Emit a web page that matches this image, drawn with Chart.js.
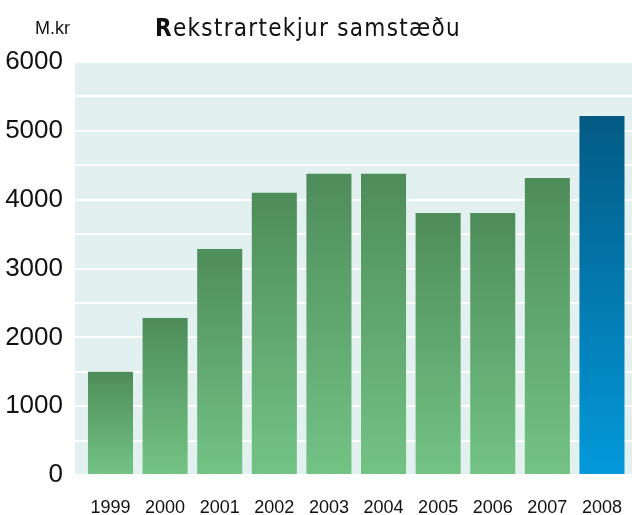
<!DOCTYPE html>
<html>
<head>
<meta charset="utf-8">
<script src="https://cdn.jsdelivr.net/npm/chart.js@4.4.1/dist/chart.umd.min.js"></script>
<style>
  html, body { margin: 0; padding: 0; background: #fff; }
  #wrap { position: relative; width: 632px; height: 515px; }
  #chart { position: absolute; left: 0; top: 0; }
  .unit { position: absolute; left: 35px; top: 18px; font: 18px "Liberation Sans", Arial, sans-serif; color: #111; }
  .title { position: absolute; left: 155px; top: 14px; font: 24px "DejaVu Sans Condensed", "DejaVu Sans", sans-serif; letter-spacing: 1.3px; color: #111; white-space: nowrap; }
  .title b { font-weight: bold; }
</style>
</head>
<body>
<div id="wrap">
  <canvas id="chart" width="632" height="515"></canvas>
  <div class="unit">M.kr</div>
  <div class="title"><b>R</b>ekstrartekjur samstæðu</div>
</div>
<script>
// Données
const years = ['1999', '2000', '2001', '2002', '2003', '2004', '2005', '2006', '2007', '2008'];
const revenue = [1500, 2280, 3285, 4100, 4375, 4375, 3805, 3805, 4315, 5215];
const yTicks = [0, 1000, 2000, 3000, 4000, 5000, 6000];

// fond du graphique + dégradé des barres
const bgPlugin = {
    id: 'bg',
    beforeDraw(chart) {
        const { ctx, chartArea } = chart;
        ctx.save();
        ctx.fillStyle = '#e2f0f0';
        ctx.fillRect(chartArea.left, chartArea.top, chartArea.right - chartArea.left, chartArea.bottom - chartArea.top);
        ctx.restore();
    },
    beforeDatasetsDraw(chart) {
        const { ctx } = chart;
        const meta = chart.getDatasetMeta(0);
        meta.data.forEach((bar, i) => {
            const g = ctx.createLinearGradient(0, bar.y, 0, bar.base);
            if (i === years.length - 1) {
                g.addColorStop(0, '#035a84');
                g.addColorStop(1, '#0399da');
            } else {
                g.addColorStop(0, '#4e8c5a');
                g.addColorStop(1, '#73c385');
            }
            bar.options = Object.assign({}, bar.options, { backgroundColor: g });
        });
    }
};

const ctx = document.getElementById('chart').getContext('2d');
new Chart(ctx, {
    type: 'bar',
    data: {
        datasets: [{
            data: revenue.map((v, i) => ({ x: i, y: v })),
            backgroundColor: c => (c.dataIndex === years.length - 1 ? '#0279b0' : '#5fa56f'),
            borderWidth: 0,
            barPercentage: 0.825,
            categoryPercentage: 1
        }]
    },
    plugins: [bgPlugin],
    options: {
        responsive: false,
        animation: false,
        layout: { padding: { top: 62, right: 0, bottom: 0, left: 0 } },
        plugins: {
            legend: { display: false },
            tooltip: { enabled: false }
        },
        scales: {
            x: {
                type: 'linear',
                min: -0.65,
                max: 9.55,
                offset: false,
                afterFit: s => { s.height = 40; s.paddingLeft = 0; s.paddingRight = 0; },
                grid: { display: false, drawTicks: false },
                border: { display: false },
                ticks: {
                    stepSize: 1,
                    includeBounds: false,
                    autoSkip: false,
                    maxRotation: 0,
                    padding: 22,
                    color: '#111',
                    font: { family: 'Liberation Sans', size: 18 },
                    callback: v => (Number.isInteger(v) && years[v]) ? years[v] : ''
                }
            },
            y: {
                min: 0,
                max: 6000,
                afterFit: s => { s.width = 75; },
                grid: { color: '#ffffff', lineWidth: 2, drawTicks: false },
                border: { display: false },
                ticks: {
                    stepSize: 500,
                    padding: 12,
                    color: '#111',
                    font: { family: 'Liberation Sans', size: 26 },
                    callback: v => yTicks.includes(v) ? String(v) : ''
                }
            }
        }
    }
});
</script>
</body>
</html>
